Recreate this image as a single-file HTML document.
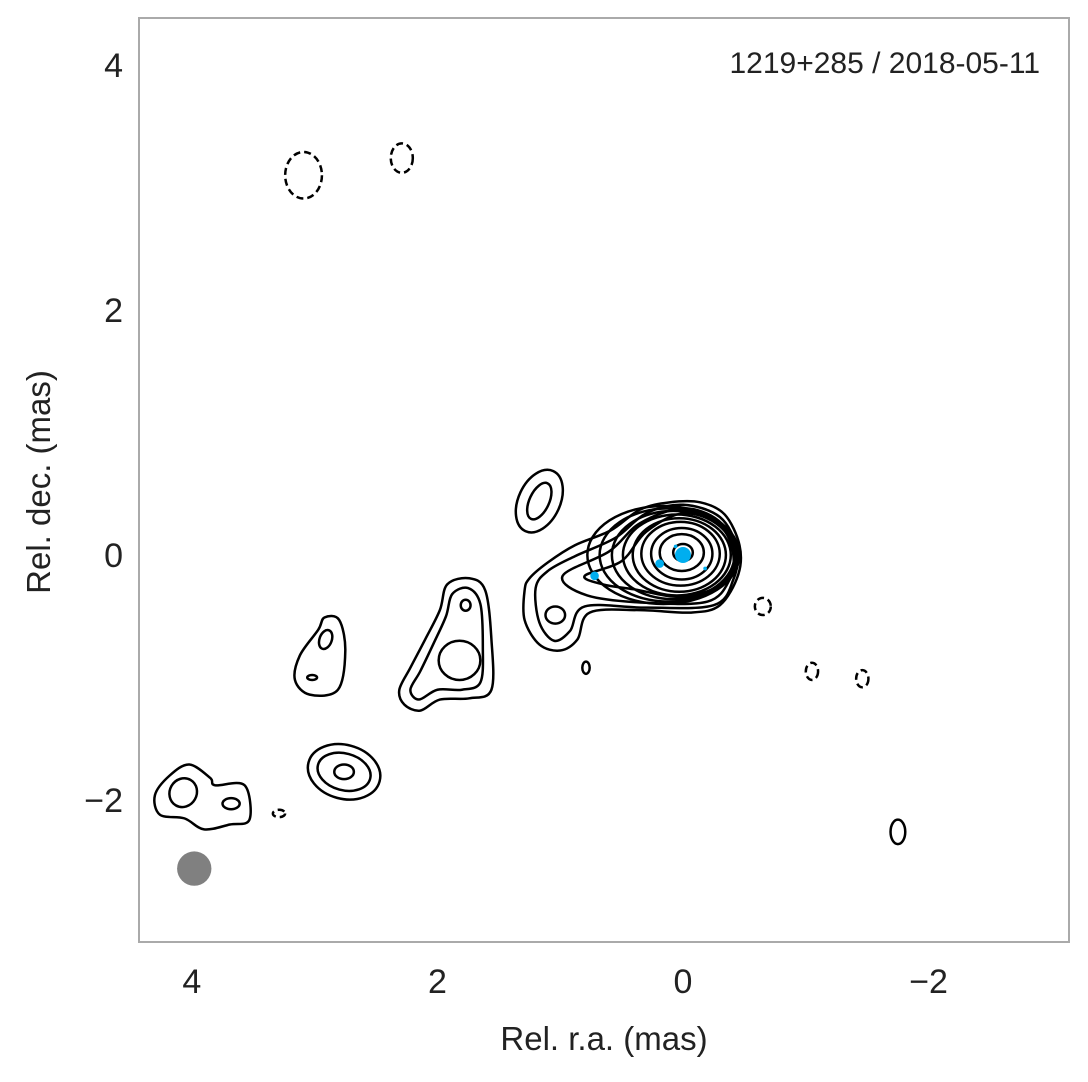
<!DOCTYPE html>
<html><head><meta charset="utf-8"><style>
body{margin:0;background:#fff}
svg text{font-family:"Liberation Sans",sans-serif;font-weight:300}
</style></head><body>
<svg id="chart" width="1088" height="1077" xmlns="http://www.w3.org/2000/svg">
<rect x="139" y="18" width="930" height="924" fill="#fff" stroke="#aaa" stroke-width="2"/>
<g id="marks"></g>
<text x="1040" y="73" font-size="30" text-anchor="end" fill="#222">1219+285 / 2018-05-11</text>
<text x="604" y="1050" font-size="33" text-anchor="middle" fill="#222">Rel. r.a. (mas)</text>
<text transform="translate(50,482) rotate(-90)" font-size="33" text-anchor="middle" fill="#222">Rel. dec. (mas)</text>
</svg>
<script>
const xTicks=[4,2,0,-2];
const yTicks=[4,2,0,-2];
const xTickLabels=["4","2","0","\u22122"];
const yTickLabels=["4","2","0","\u22122"];
// polygon contours in (ra, dec) mas
const jetContours=[
[[1.29,-0.29],[1.25,-0.19],[1.10,-0.06],[0.88,0.08],[0.59,0.20],[0.35,0.37],[0.11,0.43],[-0.14,0.43],[-0.34,0.33],[-0.46,0.08],[-0.45,-0.16],[-0.30,-0.41],[-0.06,-0.47],[0.35,-0.45],[0.76,-0.47],[0.86,-0.69],[1.00,-0.78],[1.17,-0.73],[1.29,-0.53]],
[[1.20,-0.27],[1.10,-0.13],[0.88,-0.01],[0.55,0.14],[0.30,0.34],[0,0.41],[-0.30,0.31],[-0.44,0.05],[-0.41,-0.20],[-0.25,-0.41],[0.3,-0.43],[0.80,-0.42],[0.92,-0.62],[1.05,-0.70],[1.17,-0.55]],
[[0.98,-0.17],[0.6,0.03],[0.35,0.26],[0,0.38],[-0.29,0.28],[-0.42,0.03],[-0.38,-0.2],[-0.2,-0.38],[0.3,-0.39],[0.78,-0.33]],
[[0.80,-0.17],[0.5,-0.05],[0.3,0.19],[0,0.34],[-0.3,0.24],[-0.41,0],[-0.35,-0.22],[0,-0.34],[0.4,-0.28],[0.65,-0.24]],
[[1.92,-0.24],[1.74,-0.19],[1.61,-0.29],[1.56,-0.69],[1.56,-1.10],[1.74,-1.17],[1.98,-1.18],[2.14,-1.27],[2.27,-1.22],[2.31,-1.10],[2.22,-0.92],[2.10,-0.69],[1.98,-0.45]],
[[1.88,-0.32],[1.75,-0.27],[1.65,-0.40],[1.63,-0.75],[1.65,-1.04],[1.80,-1.10],[2.00,-1.10],[2.15,-1.18],[2.22,-1.10],[2.14,-0.95],[2.03,-0.72],[1.93,-0.50]],
[[2.92,-0.51],[2.80,-0.53],[2.75,-0.78],[2.81,-1.10],[3.04,-1.14],[3.16,-1.02],[3.12,-0.82],[2.97,-0.61]],
[[4.30,-1.96],[4.18,-1.80],[4.02,-1.71],[3.85,-1.82],[3.81,-1.88],[3.57,-1.88],[3.53,-2.16],[3.69,-2.20],[3.90,-2.24],[4.06,-2.15],[4.26,-2.12]]
];
// ellipses: [ra, dec, rx, ry, rotation(deg)]
const coreRings=[[0.00,0.02,0.08,0.07,0],[0.01,0.02,0.18,0.15,0],[0.01,0.01,0.25,0.21,0],[0.02,0.01,0.32,0.26,0],[0.03,0.0,0.38,0.30,0],[0.05,0.0,0.44,0.33,0],[0.08,0.0,0.50,0.36,0],[0.12,0.0,0.56,0.38,0],[0.16,0.0,0.62,0.40,0]];
const solidBlobs=[[1.17,0.44,0.17,0.27,25],[1.17,0.44,0.08,0.16,25],[1.04,-0.49,0.08,0.07,0],[1.82,-0.86,0.17,0.16,0],[1.77,-0.41,0.04,0.045,0],[2.91,-0.69,0.05,0.08,20],[3.02,-1.0,0.04,0.02,0],[2.76,-1.77,0.30,0.22,15],[2.76,-1.77,0.22,0.15,15],[2.76,-1.77,0.08,0.06,0],[4.07,-1.94,0.11,0.12,30],[3.68,-2.03,0.07,0.045,0],[0.79,-0.92,0.03,0.05,0],[-1.75,-2.26,0.06,0.10,0]];
const negBlobs=[[3.09,3.10,0.15,0.19],[2.29,3.24,0.09,0.12],[-0.65,-0.42,0.065,0.07],[-1.05,-0.95,0.05,0.07],[-1.46,-1.01,0.05,0.07],[3.29,-2.11,0.05,0.03]];
const modelComps=[[0.0,0.0,0.065],[0.19,-0.07,0.035],[0.72,-0.17,0.035],[0.06,0.07,0.015],[-0.18,-0.11,0.015]];
const beam=[3.98,-2.56,0.14];

const sx=v=>683-122.8*v;
const sy=v=>555-122.5*v;
const k=122.6;
const NS="http://www.w3.org/2000/svg";
const svg=document.getElementById('chart');
const g=document.getElementById('marks');
function mk(t,a,p){const e=document.createElementNS(NS,t);for(const q in a)e.setAttribute(q,a[q]);(p||g).appendChild(e);return e;}
function smooth(pts){const p=pts.map(q=>[sx(q[0]),sy(q[1])]);const n=p.length;let d=`M${p[0][0]},${p[0][1]}`;
for(let i=0;i<n;i++){const a=p[(i-1+n)%n],b=p[i],c=p[(i+1)%n],e=p[(i+2)%n];
d+=`C${b[0]+(c[0]-a[0])/6},${b[1]+(c[1]-a[1])/6} ${c[0]-(e[0]-b[0])/6},${c[1]-(e[1]-b[1])/6} ${c[0]},${c[1]}`;}return d+'Z';}
jetContours.forEach(c=>{const e=mk('path',{d:smooth(c),fill:'none',stroke:'#000','stroke-width':2.5});

});
coreRings.concat(solidBlobs).forEach(r=>{const e=mk('ellipse',{cx:sx(r[0]),cy:sy(r[1]),rx:r[2]*k,ry:r[3]*k,transform:`rotate(${r[4]} ${sx(r[0])} ${sy(r[1])})`,fill:'none',stroke:'#000','stroke-width':2.5});

});
negBlobs.forEach(r=>{const e=mk('ellipse',{cx:sx(r[0]),cy:sy(r[1]),rx:r[2]*k,ry:r[3]*k,fill:'none',stroke:'#000','stroke-width':2.5,'stroke-dasharray':'7,4'});

});
modelComps.forEach(m=>{const e=mk('circle',{cx:sx(m[0]),cy:sy(m[1]),r:m[2]*k,fill:'#00aeef'});

});
const bm=mk('circle',{cx:sx(beam[0]),cy:sy(beam[1]),r:beam[2]*k,fill:'#808080'});


xTicks.forEach((v,i)=>{const t=mk('text',{x:sx(v),y:993,'font-size':34,'text-anchor':'middle',fill:'#222'},svg);t.textContent=xTickLabels[i];

});
yTicks.forEach((v,i)=>{const t=mk('text',{x:123,y:sy(v)+12,'font-size':34,'text-anchor':'end',fill:'#222'},svg);t.textContent=yTickLabels[i];

});
</script>
</body></html>
